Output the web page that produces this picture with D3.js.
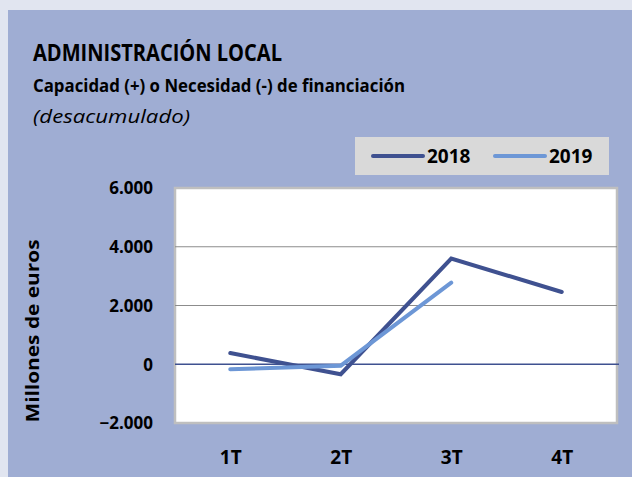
<!DOCTYPE html>
<html>
<head>
<meta charset="utf-8">
<script src="https://cdn.jsdelivr.net/npm/d3@7"></script>
<style>
  html, body { margin: 0; padding: 0; background: #e1e5f0; }
  svg { display: block; font-family: "Open Sans", "Noto Sans", sans-serif; }
</style>
</head>
<body>
<div id="chart"></div>
<script>
// Quarters and values (millones de euros)
const quarters = ['1T', '2T', '3T', '4T'];
const values2018 = [380, -340, 3600, 2460];
const values2019 = [-170, -50, 2780];
const yTicks = [-2000, 0, 2000, 4000, 6000];
const seriesNames = ['2018', '2019'];

const width = 632;
const height = 477;
const colors = { '2018': '#3f5190', '2019': '#6d97d6' };

const svg = d3.select('#chart')
  .append('svg')
    .attr('width', width)
    .attr('height', height);

// Outer background and blue panel
svg.append('rect')
  .attr('width', width).attr('height', height)
  .attr('fill', '#e1e5f0');
svg.append('rect')
  .attr('x', 8).attr('y', 10)
  .attr('width', width - 8).attr('height', height - 10)
  .attr('fill', '#9fadd3');

// Titles
svg.append('text')
  .attr('x', 33).attr('y', 61)
  .attr('font-size', 23).attr('font-weight', 'bold')
  .attr('textLength', 249).attr('lengthAdjust', 'spacingAndGlyphs')
  .text('ADMINISTRACIÓN LOCAL');
svg.append('text')
  .attr('x', 33).attr('y', 92)
  .attr('font-size', 18).attr('font-weight', 'bold')
  .attr('textLength', 372).attr('lengthAdjust', 'spacingAndGlyphs')
  .text('Capacidad (+) o Necesidad (-) de financiación');
svg.append('text')
  .attr('x', 33).attr('y', 123)
  .attr('font-size', 19).attr('font-style', 'italic')
  .attr('textLength', 157).attr('lengthAdjust', 'spacingAndGlyphs')
  .text('(desacumulado)');

// Plot area
const plot = { left: 175, right: 617, top: 188, bottom: 423 };

const x = d3.scalePoint()
  .domain(quarters)
  .range([plot.left, plot.right])
  .padding(0.5);

const y = d3.scaleLinear()
  .domain([-2000, 6000])
  .range([plot.bottom, plot.top]);

svg.append('rect')
  .attr('x', plot.left).attr('y', plot.top)
  .attr('width', plot.right - plot.left).attr('height', plot.bottom - plot.top)
  .attr('fill', '#ffffff')
  .attr('stroke', '#bfbfbf')
  .attr('stroke-width', 2.5);

// Gridlines
svg.append('g')
  .selectAll('line')
  .data(yTicks.filter(d => d !== 0 && d !== -2000 && d !== 6000))
  .join('line')
    .attr('x1', plot.left).attr('x2', plot.right)
    .attr('y1', d => y(d)).attr('y2', d => y(d))
    .attr('stroke', '#8c8c8c')
    .attr('stroke-width', 1.2);

// Zero line
svg.append('line')
  .attr('x1', plot.left).attr('x2', plot.right + 2)
  .attr('y1', y(0)).attr('y2', y(0))
  .attr('stroke', '#3f5190')
  .attr('stroke-width', 1.5);

// Y axis
const yAxis = svg.append('g')
  .attr('transform', 'translate(' + (plot.left - 22) + ',0)')
  .call(d3.axisLeft(y)
    .tickValues(yTicks)
    .tickSize(0)
    .tickFormat(d => d3.format(',')(d).replace(/,/g, '.')));
yAxis.select('.domain').remove();
yAxis.selectAll('text')
  .attr('font-family', '"Open Sans", sans-serif')
  .attr('font-size', 17)
  .attr('font-weight', 'bold')
  .attr('fill', '#000')
  .attr('x', 0)
  .attr('dy', '0.35em');

// X axis
const xAxis = svg.append('g')
  .attr('transform', 'translate(0,' + plot.bottom + ')')
  .call(d3.axisBottom(x).tickSize(0));
xAxis.select('.domain').remove();
xAxis.selectAll('text')
  .attr('font-family', '"Open Sans", sans-serif')
  .attr('font-size', 19)
  .attr('font-weight', 'bold')
  .attr('fill', '#000')
  .attr('y', 41)
  .attr('dy', 0);

// Y axis title
svg.append('text')
  .attr('transform', 'translate(39,331) rotate(-90)')
  .attr('text-anchor', 'middle')
  .attr('font-size', 18)
  .attr('font-weight', 'bold')
  .attr('textLength', 183).attr('lengthAdjust', 'spacingAndGlyphs')
  .text('Millones de euros');

// Lines
const line = d3.line()
  .x((d, i) => x(quarters[i]))
  .y(d => y(d));

const series = [
  { name: seriesNames[0], values: values2018 },
  { name: seriesNames[1], values: values2019 }
];

svg.append('g')
  .selectAll('path')
  .data(series)
  .join('path')
    .attr('fill', 'none')
    .attr('stroke', d => colors[d.name])
    .attr('stroke-width', 4)
    .attr('stroke-linecap', 'round')
    .attr('stroke-linejoin', 'miter')
    .attr('d', d => line(d.values));

// Legend
const legend = svg.append('g').attr('transform', 'translate(355,137)');
legend.append('rect')
  .attr('width', 254).attr('height', 38)
  .attr('fill', '#d9d9d9');
const item = legend.selectAll('g.item')
  .data(seriesNames)
  .join('g')
    .attr('class', 'item')
    .attr('transform', (d, i) => 'translate(' + (18 + i * 122) + ',19)');
item.append('line')
  .attr('x1', 0).attr('x2', 50)
  .attr('stroke', d => colors[d])
  .attr('stroke-width', 4)
  .attr('stroke-linecap', 'round');
item.append('text')
  .attr('x', 54).attr('dy', '0.36em')
  .attr('font-size', 19)
  .attr('font-weight', 'bold')
  .text(d => d);
</script>
</body>
</html>
